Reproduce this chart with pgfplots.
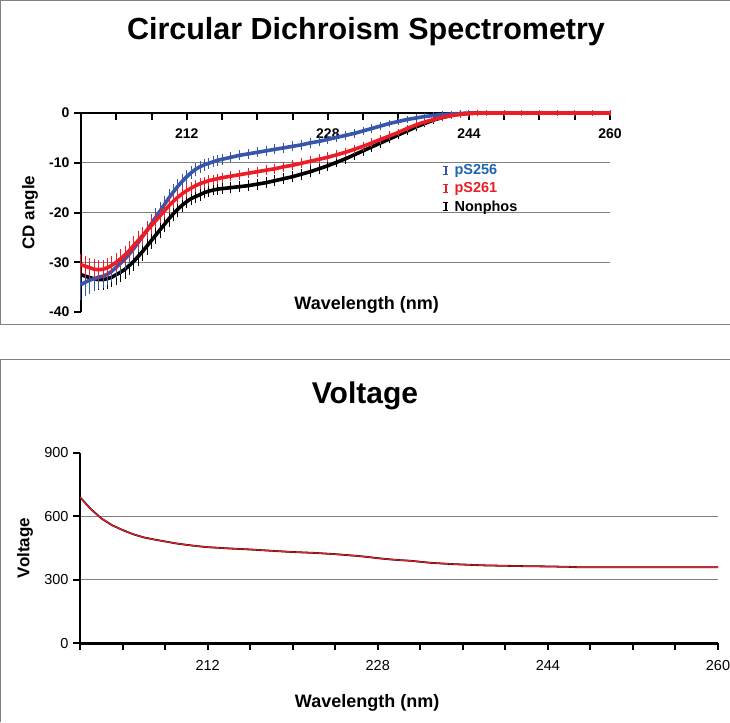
\documentclass[border=0pt]{standalone}
\usepackage{pgfplots}
\pgfplotsset{compat=1.18}
\usepackage{fontspec}
\setmainfont{Liberation Sans}
\definecolor{cBlue}{RGB}{55,85,170}
\definecolor{cBlueT}{RGB}{30,100,175}
\definecolor{cRed}{RGB}{235,30,40}
\definecolor{cGrid}{RGB}{128,128,128}
\begin{document}
\begin{tikzpicture}
\useasboundingbox (0pt,0pt) rectangle (730pt,-722pt);
\draw[cGrid, line width=1pt] (0.5pt,-324pt) -- (0.5pt,-0.5pt) -- (730pt,-0.5pt);
\draw[cGrid, line width=1pt] (0pt,-324pt) -- (730pt,-324pt);
\draw[cGrid, line width=1pt] (0.5pt,-722pt) -- (0.5pt,-359pt) -- (730pt,-359pt);
\node[font=\bfseries\fontsize{30.5}{36}\selectfont] at (366pt,-32pt) {Circular Dichroism Spectrometry};
\node[font=\bfseries\fontsize{30}{36}\selectfont] at (365pt,-396pt) {Voltage};
\begin{axis}[
  at={(81pt,-312pt)}, anchor=south west,
  scale only axis, width=529pt, height=199pt,
  xmin=200, xmax=260, ymin=-40, ymax=0,
  clip=false,
  axis x line*=top, axis y line*=left,
  axis line style={line width=2.5pt},
  tick align=outside,
  major tick length=6.5pt, minor tick length=6.5pt,
  tick style={black, line width=2pt},
  xtick style={yshift=-6.5pt},
  xtick={212,228,244,260}, xticklabels={212,228,244,260},
  minor xtick={200,204,...,260},
  ytick={-30,-20,-10}, yticklabels={-30,-20,-10},
  ymajorgrids,
  extra y ticks={-40,0}, extra y tick labels={-40,0},
  extra y tick style={grid=none},
  major grid style={cGrid, line width=0.9pt},
  xticklabel style={font=\bfseries\fontsize{14}{16}\selectfont, anchor=north, yshift=-18.5pt},
  yticklabel style={font=\bfseries\fontsize{14}{16}\selectfont, xshift=-1.5pt},
  xlabel={Wavelength (nm)}, ylabel={CD angle},
  xlabel style={font=\bfseries\fontsize{18}{20}\selectfont, at={(axis description cs:0.54,0.035)}, anchor=center},
  ylabel style={font=\bfseries\fontsize{17}{20}\selectfont, at={(axis description cs:-0.0964,0.5)}, anchor=center},
  legend style={at={(axis cs:241,-10.0)}, anchor=north west, draw=none, fill=none,
    font=\bfseries\fontsize{14.5}{16}\selectfont, row sep=3.5pt, inner sep=0pt, nodes={inner sep=1.5pt}},
  legend cell align=left,
]
\addlegendimage{legend image code/.code={\draw[cBlue,line width=1.4pt] (3pt,-4pt)--(3pt,4pt) (0.5pt,-4pt)--(5.5pt,-4pt) (0.5pt,4pt)--(5.5pt,4pt); \path (0pt,0pt) (10pt,0pt);}}
\addlegendentry{\textcolor{cBlueT}{pS256}}
\addlegendimage{legend image code/.code={\draw[cRed,line width=1.4pt] (3pt,-4pt)--(3pt,4pt) (0.5pt,-4pt)--(5.5pt,-4pt) (0.5pt,4pt)--(5.5pt,4pt); \path (0pt,0pt) (10pt,0pt);}}
\addlegendentry{\textcolor{cRed}{pS261}}
\addlegendimage{legend image code/.code={\draw[black,line width=1.4pt] (3pt,-4pt)--(3pt,4pt) (0.5pt,-4pt)--(5.5pt,-4pt) (0.5pt,4pt)--(5.5pt,4pt); \path (0pt,0pt) (10pt,0pt);}}
\addlegendentry{\textcolor{black}{Nonphos}}
% Nonphos
\addplot[black, line width=3.6pt, mark=none, forget plot,
  error bars/.cd, y dir=both, y explicit, error bar style={line width=1pt}, error mark options={line width=1pt, mark size=2.4pt}]
table[x=x, y=y, y error=e] {
x y e
200 -32.5 1.6
200.5 -32.8 1.6
201 -33.1 1.6
201.5 -33.3 1.6
202 -33.5 1.5
202.5 -33.5 1.5
203 -33.3 1.5
203.5 -33.0 1.5
204 -32.5 1.5
204.5 -32.0 1.5
205 -31.4 1.5
205.5 -30.6 1.5
206 -29.8 1.4
206.5 -28.8 1.4
207 -27.8 1.4
207.5 -26.7 1.4
208 -25.6 1.3
208.5 -24.5 1.3
209 -23.4 1.3
209.5 -22.3 1.2
210 -21.2 1.2
210.5 -20.2 1.1
211 -19.3 1.1
211.5 -18.5 1.0
212 -17.8 0.9
212.5 -17.2 0.9
213 -16.8 0.8
213.5 -16.4 0.8
214 -16.0 0.7
214.5 -15.7 0.7
215 -15.5 0.6
215.5 -15.3 0.6
216 -15.2 0.6
217 -15.0 0.6
218 -14.8 0.6
219 -14.6 0.6
220 -14.3 0.6
221 -14.0 0.6
222 -13.6 0.6
223 -13.2 0.6
224 -12.8 0.6
225 -12.3 0.6
226 -11.8 0.6
227 -11.2 0.6
228 -10.6 0.6
229 -9.9 0.5
230 -9.2 0.5
231 -8.4 0.5
232 -7.6 0.5
233 -6.8 0.5
234 -6.0 0.5
235 -5.2 0.4
236 -4.4 0.4
237 -3.6 0.4
238 -2.8 0.4
239 -2.1 0.3
240 -1.4 0.3
241 -0.9 0.3
242 -0.5 0.2
243 -0.2 0.2
244 -0.1 0.2
245 0.0 0.2
246 0.0 0.1
248 0.0 0.1
250 0.0 0.1
252 0.0 0.1
254 0.0 0.1
256 0.0 0.1
258 0.0 0.1
260 0.0 0.1
};
% pS256
\addplot[cBlue, line width=3.6pt, mark=none, forget plot,
  error bars/.cd, y dir=both, y explicit, error bar style={line width=1pt}, error mark options={line width=1pt, mark size=2.4pt}]
table[x=x, y=y, y error=e] {
x y e
200 -34.5 2.6
200.5 -34.0 2.4
201 -33.6 2.2
201.5 -33.3 2.0
202 -33.0 1.9
202.5 -32.8 1.8
203 -32.4 1.7
203.5 -31.8 1.6
204 -31.0 1.6
204.5 -30.2 1.6
205 -29.3 1.5
205.5 -28.3 1.5
206 -27.2 1.5
206.5 -26.0 1.5
207 -24.8 1.4
207.5 -23.5 1.4
208 -22.2 1.4
208.5 -20.9 1.3
209 -19.6 1.3
209.5 -18.3 1.2
210 -17.0 1.2
210.5 -15.8 1.1
211 -14.7 1.0
211.5 -13.7 1.0
212 -12.8 0.9
212.5 -12.0 0.8
213 -11.3 0.8
213.5 -10.8 0.7
214 -10.4 0.7
214.5 -10.1 0.6
215 -9.8 0.6
215.5 -9.5 0.6
216 -9.3 0.6
217 -8.9 0.5
218 -8.5 0.5
219 -8.2 0.5
220 -7.9 0.5
221 -7.6 0.5
222 -7.3 0.5
223 -7.0 0.5
224 -6.7 0.5
225 -6.4 0.5
226 -6.0 0.5
227 -5.7 0.5
228 -5.3 0.5
229 -4.9 0.4
230 -4.5 0.4
231 -4.1 0.4
232 -3.6 0.4
233 -3.1 0.4
234 -2.6 0.4
235 -2.1 0.3
236 -1.7 0.3
237 -1.3 0.3
238 -1.0 0.3
239 -0.7 0.3
240 -0.5 0.2
241 -0.3 0.2
242 -0.2 0.2
243 -0.1 0.2
244 0.0 0.2
246 0.0 0.1
248 0.0 0.1
250 0.0 0.1
252 0.0 0.1
254 0.0 0.1
256 0.0 0.1
258 0.0 0.1
260 0.0 0.1
};
% pS261
\addplot[cRed, line width=3.6pt, mark=none, forget plot,
  error bars/.cd, y dir=both, y explicit, error bar style={line width=1pt}, error mark options={line width=1pt, mark size=2.4pt}]
table[x=x, y=y, y error=e] {
x y e
200 -30.5 1.6
200.5 -30.8 1.6
201 -31.1 1.5
201.5 -31.4 1.5
202 -31.5 1.5
202.5 -31.4 1.4
203 -31.1 1.4
203.5 -30.6 1.4
204 -30.0 1.4
204.5 -29.3 1.4
205 -28.5 1.3
205.5 -27.6 1.3
206 -26.6 1.3
206.5 -25.6 1.3
207 -24.6 1.2
207.5 -23.6 1.2
208 -22.6 1.2
208.5 -21.6 1.1
209 -20.6 1.1
209.5 -19.6 1.0
210 -18.6 1.0
210.5 -17.7 0.9
211 -16.9 0.9
211.5 -16.2 0.8
212 -15.6 0.8
212.5 -15.1 0.7
213 -14.6 0.7
213.5 -14.2 0.6
214 -13.9 0.6
214.5 -13.6 0.6
215 -13.4 0.5
215.5 -13.2 0.5
216 -13.0 0.5
217 -12.7 0.5
218 -12.4 0.5
219 -12.1 0.5
220 -11.8 0.5
221 -11.5 0.5
222 -11.2 0.5
223 -10.8 0.5
224 -10.5 0.5
225 -10.1 0.5
226 -9.7 0.5
227 -9.3 0.5
228 -8.9 0.5
229 -8.4 0.4
230 -7.9 0.4
231 -7.3 0.4
232 -6.7 0.4
233 -6.0 0.4
234 -5.3 0.4
235 -4.6 0.4
236 -3.9 0.3
237 -3.1 0.3
238 -2.4 0.3
239 -1.8 0.3
240 -1.3 0.3
241 -0.9 0.2
242 -0.5 0.2
243 -0.3 0.2
244 -0.1 0.2
245 0.0 0.2
246 0.0 0.1
248 0.0 0.1
250 0.0 0.1
252 0.0 0.1
254 0.0 0.1
256 0.0 0.1
258 0.0 0.1
260 0.0 0.1
};
\end{axis}
\begin{axis}[
  at={(80pt,-643.3pt)}, anchor=south west,
  scale only axis, width=638pt, height=190.6pt,
  xmin=200, xmax=260, ymin=0, ymax=900,
  axis x line*=bottom, axis y line*=left,
  axis line style={line width=2.5pt},
  tick align=outside,
  major tick length=6.5pt, minor tick length=6.5pt,
  tick style={black, line width=2pt},
  xtick={212,228,244,260}, xticklabels={212,228,244,260},
  minor xtick={200,204,...,260},
  ytick={300,600}, yticklabels={300,600},
  ymajorgrids,
  extra y ticks={0,900}, extra y tick labels={0,900},
  extra y tick style={grid=none},
  major grid style={cGrid, line width=0.9pt},
  xticklabel style={font=\fontsize{14.5}{16}\selectfont, yshift=-7.5pt},
  yticklabel style={font=\fontsize{14.5}{16}\selectfont, xshift=-1.5pt},
  xlabel={Wavelength (nm)}, ylabel={Voltage},
  xlabel style={font=\bfseries\fontsize{18}{20}\selectfont, at={(axis description cs:0.45,-0.31)}, anchor=center},
  ylabel style={font=\bfseries\fontsize{17}{20}\selectfont, at={(axis description cs:-0.086,0.5)}, anchor=center},
]
\addplot[black, line width=1.8pt, mark=none] table[x=x, y=y] {
x y
200 690
201 635
202 590
203 558
204 535
205 515
206 500
207 490
208 481
209 472
210 465
211 459
212 454
214 448
216 443
218 437
220 431
222 427
224 421
225 417
226 413
227 408
228 402
229 397
230 393
231 390
232 385
233 380
234 377
235 374
236 372
238 368
240 366
242 364
244 363
246 361
247 359
250 359
254 359
258 359
260 359
};
\addplot[cRed, line width=1.2pt, mark=none] table[x=x, y=y] {
x y
200 690
201 635
202 590
203 558
204 535
205 515
206 500
207 490
208 481
209 472
210 465
211 459
212 454
214 448
216 443
218 437
220 431
222 427
224 421
225 417
226 413
227 408
228 402
229 397
230 393
231 390
232 385
233 380
234 377
235 374
236 372
238 368
240 366
242 364
244 363
246 361
247 359
250 359
254 359
258 359
260 359
};
\end{axis}
\end{tikzpicture}
\end{document}
